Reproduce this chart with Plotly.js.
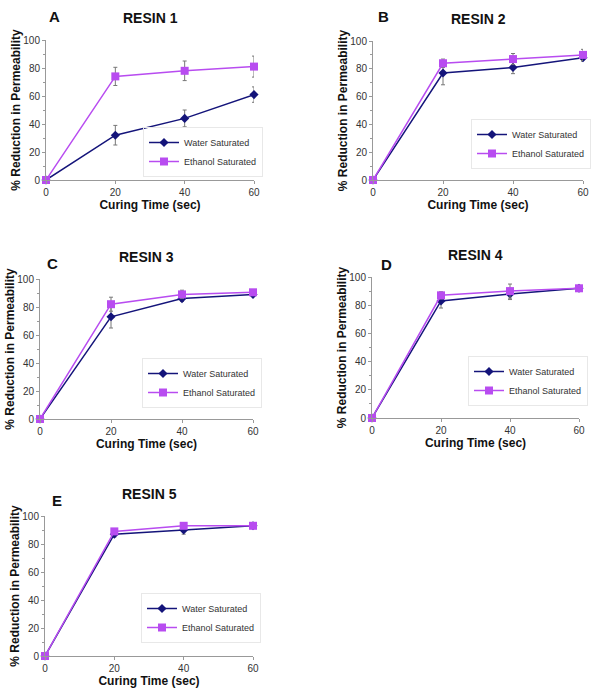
<!DOCTYPE html>
<html><head><meta charset="utf-8">
<script src="https://cdn.plot.ly/plotly-3.0.1.min.js"></script>
<style>body{margin:0;background:#fff;overflow:hidden}#chart{width:600px;height:694px}</style>
</head><body><div id="chart"></div>
<script>
const curingTime = [0, 20, 40, 60];
const panelLetters = ['A', 'B', 'C', 'D', 'E'];
const resinNames = ['RESIN 1', 'RESIN 2', 'RESIN 3', 'RESIN 4', 'RESIN 5'];
const waterR1 = [0, 32, 44, 61];   const waterR1Err = [0, 7, 6, 5.5];
const ethR1   = [0, 74, 78, 81];   const ethR1Err   = [0, 6.5, 7, 7.5];
const waterR2 = [0, 77, 81, 88];   const waterR2Err = [0, 8.5, 4.5, 2.5];
const ethR2   = [0, 84, 87, 90];   const ethR2Err   = [0, 3, 4, 4];
const waterR3 = [0, 73, 86, 89];   const waterR3Err = [0, 8, 2, 1];
const ethR3   = [0, 82, 89, 90.5]; const ethR3Err   = [0, 5, 3, 1];
const waterR4 = [0, 83, 88, 92];   const waterR4Err = [0, 5, 4, 2];
const ethR4   = [0, 87, 90, 92];   const ethR4Err   = [0, 2.5, 5, 2];
const waterR5 = [0, 87, 90, 93];   const waterR5Err = [0, 2, 3, 1];
const ethR5   = [0, 89, 93, 93];   const ethR5Err   = [0, 2, 1, 1];
const seriesNames = ['Water Saturated', 'Ethanol Saturated'];

const water = [waterR1, waterR2, waterR3, waterR4, waterR5];
const waterErr = [waterR1Err, waterR2Err, waterR3Err, waterR4Err, waterR5Err];
const eth = [ethR1, ethR2, ethR3, ethR4, ethR5];
const ethErr = [ethR1Err, ethR2Err, ethR3Err, ethR4Err, ethR5Err];

const W = 600, H = 694;
// panel pixel boxes [x0, x1, yTop, yBottom]
const boxes = [
  [46, 254, 40, 180],
  [373, 583, 41, 180],
  [40, 253, 279, 419],
  [372, 579, 277, 418],
  [45, 253, 516, 656]
];
// legend left x, centre y
const legendPos = [[143, 152], [471, 144], [142, 383], [468, 381], [141, 618]];
const letterPos = [[55, 17], [383, 17], [52, 263], [386, 264], [57, 500]];

const waterColor = '#14147a';
const ethColor = '#b84cf0';
const data = [];
const layout = {
  width: W, height: H, margin: {l: 0, r: 0, t: 0, b: 0, autoexpand: false},
  paper_bgcolor: '#fff', plot_bgcolor: '#fff',
  font: {family: 'Liberation Sans, Arial, sans-serif', color: '#333'},
  annotations: [], showlegend: true
};

for (let i = 0; i < 5; i++) {
  const n = i === 0 ? '' : String(i + 1);
  const b = boxes[i];
  const lg = 'legend' + n;
  data.push({
    x: curingTime, y: water[i], type: 'scatter', mode: 'lines+markers',
    name: seriesNames[0], xaxis: 'x' + n, yaxis: 'y' + n, legend: lg,
    line: {color: waterColor, width: 1.5},
    marker: {symbol: 'diamond', size: 7, color: waterColor},
    error_y: {type: 'data', array: waterErr[i], visible: true, color: '#777', thickness: 1, width: 2},
    cliponaxis: false
  });
  data.push({
    x: curingTime, y: eth[i], type: 'scatter', mode: 'lines+markers',
    name: seriesNames[1], xaxis: 'x' + n, yaxis: 'y' + n, legend: lg,
    line: {color: ethColor, width: 1.5},
    marker: {symbol: 'square', size: 8, color: ethColor},
    error_y: {type: 'data', array: ethErr[i], visible: true, color: '#777', thickness: 1, width: 2},
    cliponaxis: false
  });
  layout['xaxis' + n] = {
    domain: [b[0] / W, b[1] / W], anchor: 'y' + n, range: [0, 60],
    tickvals: curingTime, ticks: 'outside', ticklen: 3, tickcolor: '#999',
    showline: true, linecolor: '#999', linewidth: 1, showgrid: false, zeroline: false,
    tickfont: {size: 10, color: '#333'},
    title: {text: 'Curing Time (sec)', font: {size: 12, color: '#111', family: 'Liberation Sans, Arial, sans-serif', weight: 'bold'}, standoff: 0}
  };
  layout['yaxis' + n] = {
    domain: [1 - b[3] / H, 1 - b[2] / H], anchor: 'x' + n, range: [0, 100],
    tickvals: [0, 20, 40, 60, 80, 100], ticks: 'outside', ticklen: 3, tickcolor: '#999',
    minor: {dtick: 10, ticks: 'outside', ticklen: 2, tickcolor: '#999'},
    showline: true, linecolor: '#999', linewidth: 1, showgrid: false, zeroline: false,
    tickfont: {size: 10, color: '#333'},
    title: {text: '% Reduction in Permeability', font: {size: 12, color: '#111', family: 'Liberation Sans, Arial, sans-serif', weight: 'bold'}, standoff: 0}
  };
  layout[lg] = {
    x: legendPos[i][0] / W, y: 1 - legendPos[i][1] / H, xanchor: 'left', yanchor: 'middle',
    bgcolor: 'rgba(255,255,255,0)', bordercolor: '#e8e8e8', borderwidth: 1,
    font: {size: 9, color: '#333'}, tracegroupgap: 0, itemwidth: 30
  };
  layout.annotations.push({
    text: resinNames[i], xref: 'paper', yref: 'paper', showarrow: false,
    x: (b[0] + b[1]) / 2 / W, y: 1 - (b[2] - 22) / H, xanchor: 'center', yanchor: 'middle',
    font: {size: 14, color: '#111', weight: 'bold'}
  });
  layout.annotations.push({
    text: panelLetters[i], xref: 'paper', yref: 'paper', showarrow: false,
    x: letterPos[i][0] / W, y: 1 - letterPos[i][1] / H, xanchor: 'center', yanchor: 'middle',
    font: {size: 15, color: '#111', weight: 'bold'}
  });
}
Plotly.newPlot('chart', data, layout, {displayModeBar: false, staticPlot: true});
</script></body></html>
